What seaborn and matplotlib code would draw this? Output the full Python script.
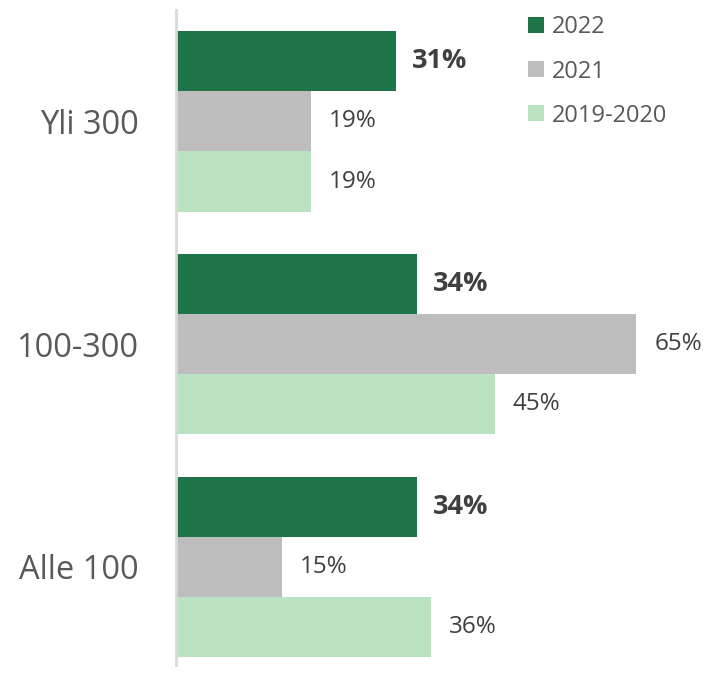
import pandas as pd
import matplotlib.pyplot as plt
import seaborn as sns

# values (percent)
categories = ["Yli 300", "100-300", "Alle 100"]
years = ["2022", "2021", "2019-2020"]
v2022 = [31, 34, 34]
v2021 = [19, 65, 15]
v2019_2020 = [19, 45, 36]

colors = {"2022": "#1F744A", "2021": "#BDBDBD", "2019-2020": "#BCE3C1"}

df = pd.DataFrame({
    "cat": categories * 3,
    "year": [years[0]] * 3 + [years[1]] * 3 + [years[2]] * 3,
    "val": v2022 + v2021 + v2019_2020,
})

sns.set_style("white")
plt.rcParams["font.family"] = ["Open Sans", "DejaVu Sans"]

fig = plt.figure(figsize=(7.03, 6.78), dpi=100)
ax = fig.add_axes([176 / 703, 13 / 678, 524 / 703, 655 / 678])

sns.barplot(data=df, y="cat", x="val", hue="year", order=categories,
            hue_order=years, palette=colors, width=0.81, orient="h",
            saturation=1, linewidth=0, ax=ax, legend=True)

ax.set_xlim(0, 74)
ax.set_ylim(2.44, -0.5)
ax.set_xlabel("")
ax.set_ylabel("")
ax.set_xticks([])
for s in ["top", "right", "bottom"]:
    ax.spines[s].set_visible(False)
ax.spines["left"].set_color("#D9D9D9")
ax.spines["left"].set_linewidth(2)
ax.tick_params(axis="y", length=0, pad=27, labelsize=23.5, labelcolor="#595959")

# value labels
for i, cont in enumerate(ax.containers):
    bold = years[i] == "2022"
    ax.bar_label(cont, labels=[f"{int(v)}%" for v in cont.datavalues],
                 padding=12 if bold else 13, fontsize=19.5 if bold else 17.5,
                 fontweight="bold" if bold else "normal", color="#404040")

ax.legend(loc="upper left", bbox_to_anchor=(519 / 703, 1 - 6 / 678), bbox_transform=fig.transFigure,
          frameon=False, fontsize=17, handlelength=0.64, handleheight=0.64,
          handletextpad=0.35, labelspacing=0.85, borderaxespad=0, labelcolor="#595959")

fig.savefig("out.png", dpi=100)
